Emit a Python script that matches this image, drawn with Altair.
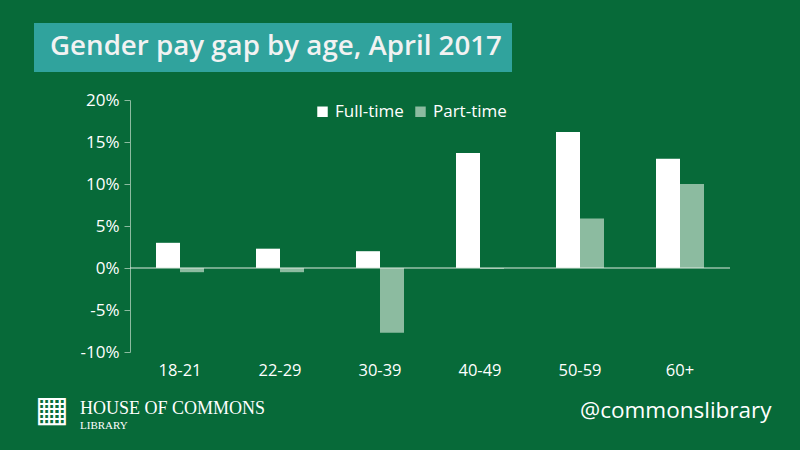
import altair as alt
import pandas as pd

ages = ["18-21", "22-29", "30-39", "40-49", "50-59", "60+"]
full_time = [3.0, 2.3, 2.0, 13.7, 16.2, 13.0]
part_time = [-0.5, -0.5, -7.7, -0.1, 5.9, 10.0]
series = ["Full-time", "Part-time"]
y_ticks = [-10, -5, 0, 5, 10, 15, 20]

BG = "#076a39"
PT_COLOR = "#8cbba0"
TEAL = "#30a39d"
FONT = "Open Sans"

rows = []
for a, f, p in zip(ages, full_time, part_time):
    rows.append({"age": a, "series": series[0], "value": f})
    rows.append({"age": a, "series": series[1], "value": p})
df = pd.DataFrame(rows)

bars = alt.Chart(df).mark_bar().encode(
    x=alt.X("age:N", sort=ages, title=None,
            scale=alt.Scale(paddingInner=0.52, paddingOuter=0.26),
            axis=alt.Axis(domain=False, ticks=False, labelAngle=0, labelColor="white",
                          labelFontSize=16.5, labelFont=FONT, labelPadding=10,
                          orient="bottom")),
    xOffset=alt.XOffset("series:N", sort=series),
    y=alt.Y("value:Q", title=None,
            scale=alt.Scale(domain=[-10, 20], nice=False),
            axis=alt.Axis(values=y_ticks, labelExpr="datum.value + '%'", grid=False,
                          domainColor=PT_COLOR, tickColor=PT_COLOR, tickSize=6,
                          labelColor="white", labelFontSize=17, labelFont=FONT,
                          labelPadding=5)),
    color=alt.Color("series:N", sort=series,
                    scale=alt.Scale(domain=series, range=["white", PT_COLOR]),
                    legend=alt.Legend(title=None, orient="none", legendX=184, legendY=3,
                                      direction="horizontal", symbolType="square",
                                      symbolSize=110, symbolStrokeWidth=0,
                                      labelColor="white", labelFontSize=17,
                                      labelFont=FONT, columnPadding=8, labelOffset=4)),
)

zero = alt.Chart(pd.DataFrame({"v": [0]})).mark_rule(color="#dde9e0", strokeWidth=1.2).encode(
    y="v:Q"
)

one = pd.DataFrame({"k": [0]})

title_box = alt.Chart(one).mark_rect(color=TEAL).encode(
    x=alt.value(-96), x2=alt.value(382), y=alt.value(-77), y2=alt.value(-28)
)
title_text = alt.Chart(one).mark_text(
    text="Gender pay gap by age, April 2017", font=FONT, fontSize=27.7, fontWeight=600,
    color="#f2f2f2", align="left", baseline="middle"
).encode(x=alt.value(-80), y=alt.value(-53))

handle = alt.Chart(one).mark_text(
    text="@commonslibrary", font=FONT, fontSize=22.5, color="white",
    align="left", baseline="middle"
).encode(x=alt.value(450), y=alt.value(311))

logo_icon = alt.Chart(one).mark_text(
    text="▦", font="DejaVu Sans", fontSize=36, color="white",
    align="center", baseline="middle"
).encode(x=alt.value(-78), y=alt.value(310))

house = alt.Chart(one).mark_text(
    text="HOUSE OF COMMONS", font="Liberation Serif", fontSize=18, color="white",
    align="left", baseline="alphabetic"
).encode(x=alt.value(-50), y=alt.value(314))

library = alt.Chart(one).mark_text(
    text="LIBRARY", font="Liberation Serif", fontSize=11, color="white",
    align="left", baseline="alphabetic"
).encode(x=alt.value(-50), y=alt.value(329))

chart = alt.layer(bars, zero, title_box, title_text, handle, logo_icon, house, library).properties(
    width=600, height=252, background=BG,
    autosize=alt.AutoSizeParams(type="none"),
    padding={"left": 130, "top": 100, "right": 70, "bottom": 98},
).configure_view(stroke=None)

chart.save("out.html", embed_options={"renderer": "svg", "actions": False})
